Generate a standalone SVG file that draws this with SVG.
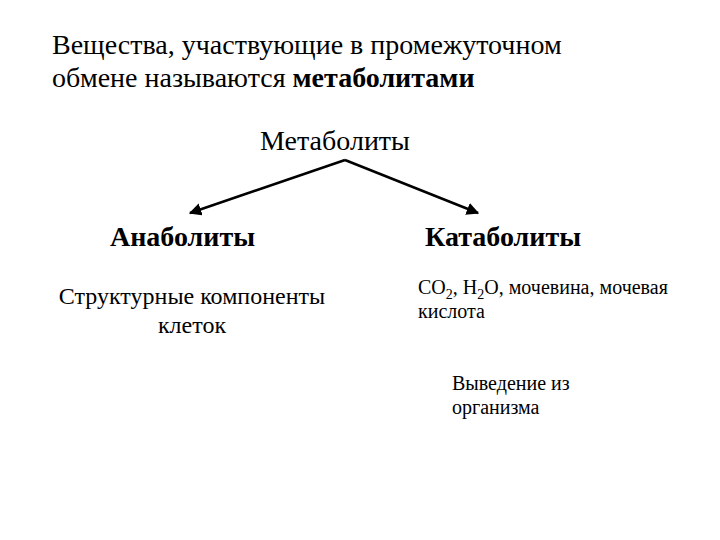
<svg xmlns="http://www.w3.org/2000/svg" width="720" height="540" viewBox="0 0 720 540">
<style>
text{font-family:"Liberation Serif","Times New Roman",serif;fill:#000}
.b{font-weight:bold}
</style>
<defs><marker id="ar" viewBox="0 0 10 10" refX="9" refY="5" markerWidth="5" markerHeight="5" orient="auto"><path d="M0,0L10,5L0,10z" fill="#000"/></marker></defs>
<rect width="720" height="540" fill="#fff"/>
<g id="title"><text x="52" y="54" font-size="28">Вещества, участвующие в промежуточном</text>
<text x="52" y="87" font-size="28">обмене называются <tspan class="b">метаболитами</tspan></text></g>
<g id="root"><text x="335" y="150" font-size="28" text-anchor="middle">Метаболиты</text></g>
<g id="connectors" stroke="#000" stroke-width="2.5" fill="none">
<path d="M345,160L190,213" marker-end="url(#ar)"/>
<path d="M345,160L478,213" marker-end="url(#ar)"/>
</g>
<g id="anab"><text x="110" y="246" font-size="28" class="b">Анаболиты</text>
<text x="192" y="304" font-size="24" text-anchor="middle">Структурные компоненты</text>
<text x="192" y="333" font-size="24" text-anchor="middle">клеток</text></g>
<g id="katab"><text x="425" y="246" font-size="28" class="b">Катаболиты</text>
<text x="418" y="294" font-size="20">CO<tspan font-size="14" dy="5">2</tspan><tspan dy="-5">, H</tspan><tspan font-size="14" dy="5">2</tspan><tspan dy="-5">O, мочевина, мочевая</tspan></text>
<text x="418" y="318" font-size="20">кислота</text></g>
<g id="excr"><text x="452" y="390" font-size="20">Выведение из</text>
<text x="452" y="414" font-size="20">организма</text></g>
</svg>
